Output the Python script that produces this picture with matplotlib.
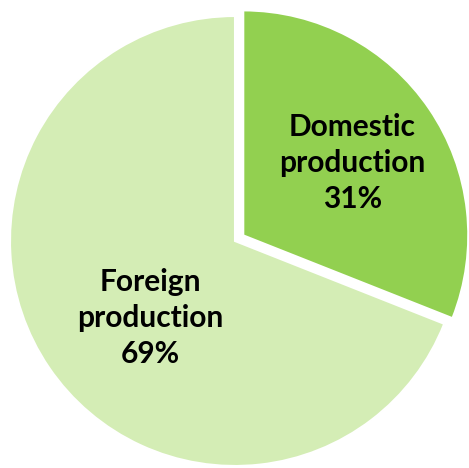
import numpy as np
import matplotlib.pyplot as plt

# production share
labels = ['Domestic\nproduction', 'Foreign\nproduction']
shares = [31, 69]
colors = ['#92D050', '#D4EDB5']
explode = [10, 0]          # pie() takes explode in data units here
label_dist = [0.625, 0.51]
label_turn = [-0.7, 8.0]   # degrees added to the wedge mid angle

fig = plt.figure(figsize=(4.69, 4.68), dpi=100)
ax = fig.add_axes([0, 0, 1, 1])

R = 225
cx, cy = 235, 468 - 241

wedges, _ = ax.pie(shares, colors=colors, explode=explode, startangle=90,
                   counterclock=False, radius=R, center=(cx, cy),
                   wedgeprops=dict(edgecolor='white', linewidth=1.5))

for w, lab, val, d, t in zip(wedges, labels, shares, label_dist, label_turn):
    ang = np.deg2rad((w.theta1 + w.theta2) / 2 + t)
    x = cx + R * d * np.cos(ang)
    y = cy + R * d * np.sin(ang)
    ax.text(x, y, f'{lab}\n{val}%', ha='center', va='center',
            fontsize=21.5, fontweight='bold', family='Lato',
            linespacing=1.35, color='black')

ax.set_xlim(0, 469)
ax.set_ylim(0, 468)
ax.set_aspect('equal')
ax.axis('off')

fig.savefig('out.png', dpi=100)
